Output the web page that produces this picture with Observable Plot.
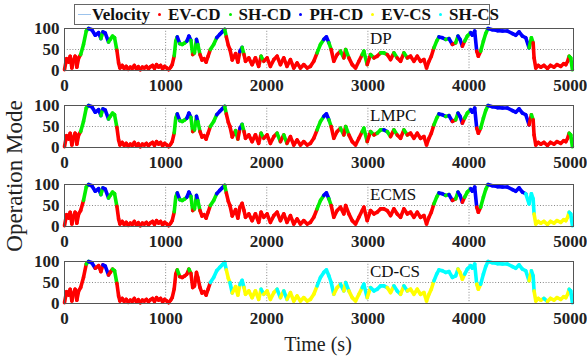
<!DOCTYPE html>
<html><head><meta charset="utf-8">
<script src="https://cdn.jsdelivr.net/npm/d3@7"></script>
<script src="https://cdn.jsdelivr.net/npm/@observablehq/plot@0.6"></script>
<style>
body{margin:0;background:#fff;}
#root{position:relative;width:587px;height:356px;overflow:hidden;font-family:"Liberation Serif","Times New Roman",serif;color:#222;}
.panel{position:absolute;left:0;}
#legend{position:absolute;left:74px;top:4px;width:414px;height:19px;border:1px solid #666;display:flex;align-items:center;font-weight:bold;font-size:17px;line-height:19px;color:#111;background:#fff;z-index:2;white-space:nowrap;}
.sw-line{display:inline-block;width:13px;height:0;border-top:1.5px solid;margin:0 1px 0 3px;}
.sw-dot{display:inline-block;width:3px;height:3px;border-radius:50%;margin:0 7px 0 8px;}
#ylab{position:absolute;left:15px;top:176px;transform:translate(-50%,-50%) rotate(-90deg);font-size:23px;white-space:nowrap;}
#xlab{position:absolute;left:318px;top:333px;transform:translateX(-50%);font-size:20px;white-space:nowrap;}
</style></head>
<body><div id="root"><div id="legend"></div><div id="ylab">Operation Mode</div><div id="xlab">Time (s)</div></div>
<script>
// Drive-cycle velocity (time in s, speed)
const T = [0,20,40,56,73,90,105,122,140,160,188,215,238,270,304,337,360,380,403,435,455,475,495,518,535,548,570,590,610,630,650,670,690,710,730,750,770,790,810,830,850,870,890,910,930,950,970,990,1010,1030,1050,1065,1085,1100,1115,1140,1165,1190,1210,1230,1250,1268,1285,1305,1318,1340,1360,1380,1400,1420,1442,1475,1505,1535,1560,1584,1600,1620,1636,1659,1692,1714,1734,1756,1775,1790,1822,1855,1888,1920,1944,1970,2003,2036,2070,2102,2135,2168,2200,2234,2267,2300,2333,2366,2400,2432,2465,2498,2531,2564,2590,2614,2637,2663,2696,2729,2762,2780,2812,2845,2878,2911,2944,2960,2993,3026,3060,3092,3125,3158,3191,3224,3257,3290,3323,3356,3390,3422,3455,3488,3520,3554,3580,3604,3627,3653,3680,3703,3736,3769,3802,3835,3868,3891,3911,3934,3957,3983,4016,4033,4056,4076,4092,4115,4142,4165,4188,4231,4280,4330,4380,4430,4462,4495,4528,4561,4594,4617,4634,4643,4660,4685,4710,4740,4775,4805,4840,4870,4907,4935,4957,4975,4990,5006,5022];
const V = [2,28,20,34,6,25,34,8,30,38,62,94,100,97,84,90,76,92,89,68,75,82,78,48,18,6,12,5,10,3,8,5,12,4,9,2,8,6,10,4,9,12,5,14,8,12,4,10,6,2,8,14,35,70,80,64,62,66,70,82,72,38,42,74,62,38,25,28,20,34,50,62,78,86,92,98,80,60,50,25,40,20,45,55,38,22,30,14,30,10,34,22,30,10,26,34,14,30,10,26,6,18,6,14,6,10,22,42,62,74,80,66,50,22,38,46,30,50,30,14,6,22,38,46,14,38,30,34,42,42,38,26,42,30,22,42,30,34,22,34,22,26,6,22,34,54,70,80,78,74,76,62,66,82,74,58,70,82,90,84,94,46,34,46,70,88,100,97,95,94,94,88,84,92,82,78,54,78,66,30,6,12,8,12,5,12,8,14,10,16,14,22,34,30,2];

// Operation-mode change points [time, code] per strategy
const dpModes = [[0,"R"],[160,"G"],[230,"B"],[345,"G"],[370,"B"],[415,"G"],[505,"R"],[1085,"G"],[1115,"B"],[1140,"G"],[1200,"B"],[1240,"G"],[1262,"R"],[1285,"G"],[1305,"B"],[1318,"G"],[1340,"R"],[1430,"G"],[1495,"B"],[1575,"G"],[1592,"R"],[1728,"B"],[1745,"G"],[1765,"R"],[1935,"G"],[1955,"R"],[2490,"G"],[2560,"B"],[2610,"G"],[2630,"R"],[2720,"G"],[2740,"R"],[2775,"G"],[2790,"R"],[2940,"G"],[2970,"R"],[3020,"G"],[3035,"R"],[3115,"G"],[3170,"R"],[3250,"G"],[3265,"R"],[3350,"G"],[3365,"R"],[3640,"G"],[3700,"B"],[3755,"G"],[3800,"B"],[3820,"R"],[3850,"G"],[3880,"B"],[3920,"R"],[3955,"G"],[3995,"B"],[4070,"R"],[4115,"G"],[4180,"B"],[4580,"G"],[4600,"R"],[4612,"G"],[4630,"R"],[4985,"G"],[5010,"R"]];
const lmpcModes = [[0,"R"],[160,"G"],[230,"B"],[345,"G"],[370,"B"],[415,"G"],[505,"R"],[1085,"G"],[1115,"B"],[1140,"G"],[1200,"B"],[1240,"G"],[1262,"R"],[1285,"G"],[1305,"B"],[1318,"G"],[1340,"R"],[1430,"G"],[1495,"B"],[1575,"G"],[1592,"R"],[1692,"G"],[1714,"R"],[1728,"B"],[1745,"G"],[1765,"R"],[1935,"G"],[1955,"R"],[2100,"G"],[2120,"R"],[2165,"G"],[2180,"R"],[2490,"G"],[2560,"B"],[2610,"G"],[2630,"R"],[2720,"G"],[2740,"R"],[2775,"G"],[2790,"R"],[2940,"G"],[2970,"R"],[3020,"G"],[3035,"R"],[3090,"G"],[3155,"B"],[3190,"G"],[3224,"R"],[3250,"G"],[3265,"R"],[3350,"G"],[3365,"R"],[3640,"G"],[3700,"B"],[3755,"G"],[3800,"B"],[3820,"R"],[3850,"G"],[3880,"B"],[3920,"R"],[3955,"G"],[3995,"B"],[4070,"R"],[4115,"G"],[4180,"B"],[4580,"R"],[4612,"G"],[4630,"R"],[4985,"G"],[5010,"R"]];
const ecmsModes = [[0,"R"],[165,"G"],[230,"B"],[345,"G"],[370,"B"],[415,"G"],[505,"R"],[1085,"G"],[1115,"B"],[1140,"G"],[1200,"B"],[1240,"G"],[1262,"R"],[1285,"G"],[1305,"B"],[1318,"G"],[1340,"R"],[1430,"G"],[1495,"B"],[1575,"G"],[1592,"R"],[2490,"G"],[2560,"B"],[2610,"G"],[2630,"R"],[3640,"G"],[3700,"B"],[3755,"G"],[3800,"B"],[3820,"R"],[3850,"G"],[3880,"B"],[3920,"R"],[3955,"G"],[3995,"B"],[4070,"R"],[4115,"G"],[4180,"B"],[4535,"C"],[4643,"Y"],[4985,"C"],[5010,"Y"]];
const cdcsModes = [[0,"R"],[205,"G"],[238,"B"],[300,"R"],[375,"B"],[420,"R"],[470,"G"],[500,"R"],[1115,"G"],[1130,"R"],[1230,"G"],[1245,"R"],[1440,"C"],[1600,"Y"],[1636,"C"],[1650,"Y"],[1734,"C"],[1765,"Y"],[1944,"C"],[1960,"Y"],[2102,"C"],[2120,"Y"],[2168,"C"],[2180,"Y"],[2490,"C"],[2660,"Y"],[2729,"C"],[2740,"Y"],[2780,"C"],[2790,"Y"],[2944,"C"],[2970,"Y"],[3026,"C"],[3191,"Y"],[3257,"C"],[3323,"Y"],[3356,"C"],[3370,"Y"],[3640,"C"],[3891,"Y"],[3957,"C"],[4076,"Y"],[4115,"C"],[4594,"Y"],[4617,"C"],[4643,"Y"],[4740,"C"],[4760,"Y"],[4990,"C"],[5022,"Y"]];

const modeCodes = ["R","G","B","Y","C"];
const modeNames = ["EV-CD","SH-CD","PH-CD","EV-CS","SH-CS"];
const modeColors = ["#ff0000","#00ee00","#0000ff","#ffff00","#00ffff"];
const velocityColor = "#9cc3ec";
const panelNames = ["DP","LMPC","ECMS","CD-CS"];
const xTicks = [0,1000,2000,3000,4000,5000];
const yTicks = [0,50,100];

const panelModes = [dpModes, lmpcModes, ecmsModes, cdcsModes];
const panelTops = [24, 101, 180, 257];

function modeAt(changes, t) {
  let code = changes[0][1];
  for (const [s, c] of changes) { if (s <= t) code = c; else break; }
  return modeNames[modeCodes.indexOf(code)];
}

const root = document.getElementById("root");
const legend = document.getElementById("legend");
{
  const it = document.createElement("span");
  it.innerHTML = `<span class="sw-line" style="border-color:${velocityColor}"></span>Velocity`;
  it.style.display = "inline-flex"; it.style.alignItems = "center";
  legend.appendChild(it);
  modeNames.forEach((n, i) => {
    const s = document.createElement("span");
    s.style.display = "inline-flex"; s.style.alignItems = "center";
    s.innerHTML = `<span class="sw-dot" style="background:${modeColors[i]}"></span>${n}`;
    legend.appendChild(s);
  });
}

panelNames.forEach((name, k) => {
  const changes = panelModes[k];
  const pts = T.map((t, i) => ({t, v: V[i], mode: modeAt(changes, t)}));
  const segs = pts.slice(0, -1).map((p, i) => ({t1: p.t, v1: p.v, t2: pts[i+1].t, v2: pts[i+1].v, mode: p.mode}));
  const chart = Plot.plot({
    width: 587, height: 78,
    marginLeft: 64, marginRight: 14, marginTop: 4, marginBottom: 32,
    x: {domain: [0, 5033]},
    y: {domain: [0, 100]},
    color: {domain: modeNames, range: modeColors},
    style: {fontFamily: '"Liberation Serif","Times New Roman",serif', fontSize: "17px", fontWeight: "bold", color: "#222", background: "transparent", overflow: "visible"},
    marks: [
      Plot.gridX(xTicks.slice(1, -1), {stroke: "#888", strokeOpacity: 1, strokeDasharray: "1,1.8"}),
      Plot.gridY([50], {stroke: "#888", strokeOpacity: 1, strokeDasharray: "1,1.8"}),
      Plot.line(pts, {x: "t", y: "v", stroke: velocityColor, strokeWidth: 1}),
      Plot.link(segs, {x1: "t1", y1: "v1", x2: "t2", y2: "v2", stroke: "mode", strokeWidth: 3.6, strokeLinecap: "round"}),
      Plot.axisX(xTicks, {tickSize: 0, tickPadding: 8, tickFormat: d3.format("d"), label: null, fontSize: 17, fontWeight: "bold"}),
      Plot.axisY(yTicks, {tickSize: 0, tickPadding: 5, label: null, fontSize: 17, fontWeight: "bold"}),
      Plot.frame({stroke: "#555", strokeWidth: 1}),
      Plot.text([name], {frameAnchor: "top", dx: 51, dy: 3, textAnchor: "start", lineAnchor: "top", fontSize: 17, fontWeight: "normal", fill: "#111"})
    ]
  });
  chart.classList.add("panel");
  chart.style.top = panelTops[k] + "px";
  root.appendChild(chart);
});
</script>
</body></html>
